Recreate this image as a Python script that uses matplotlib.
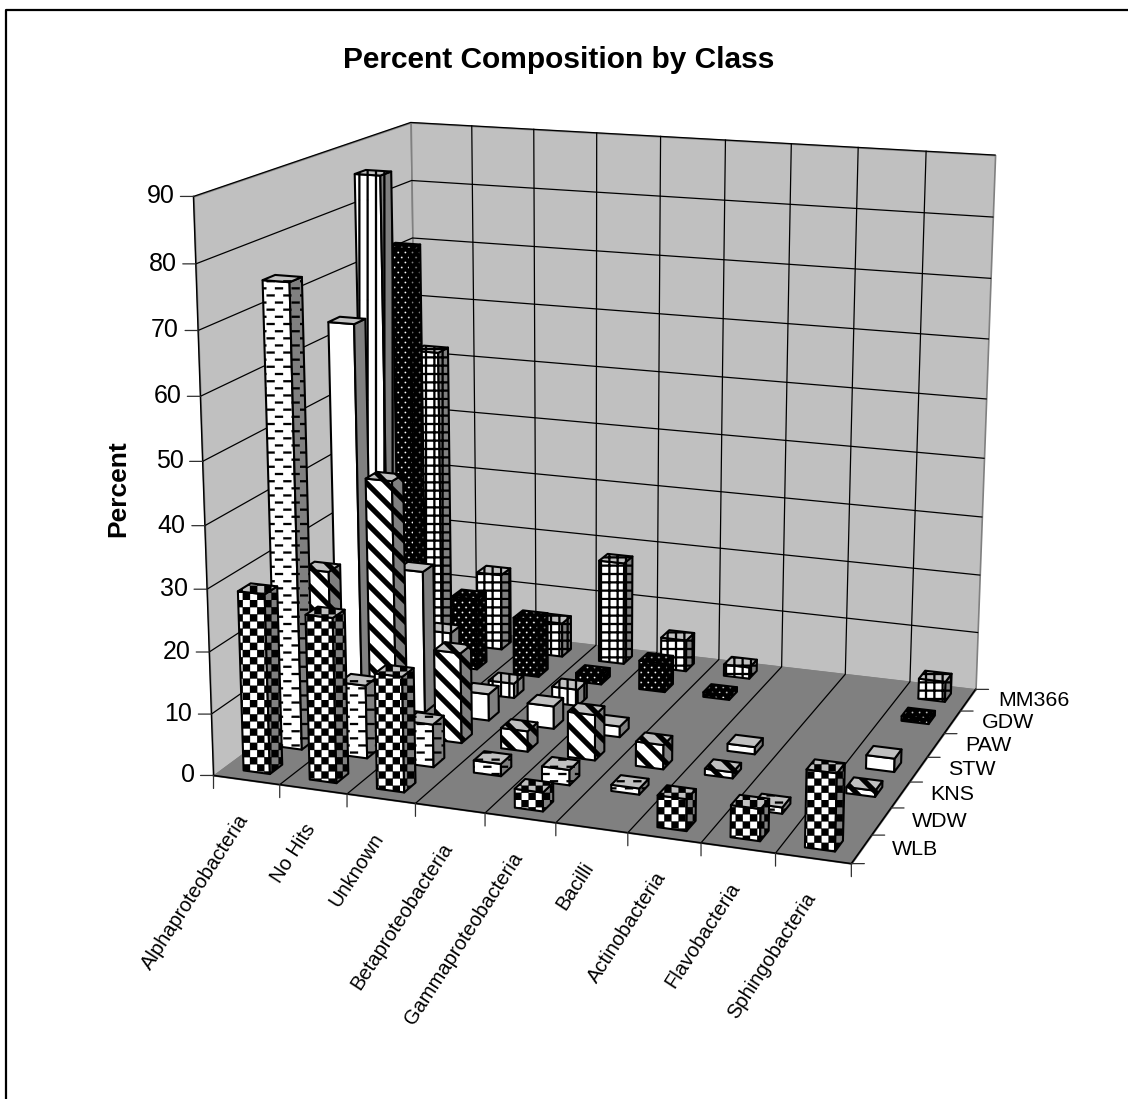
import numpy as np
import matplotlib
matplotlib.use('Agg')
import matplotlib.pyplot as plt
from matplotlib import hatch as mpl_hatch
from matplotlib.lines import Line2D
from matplotlib.path import Path
from mpl_toolkits.mplot3d import proj3d
from mpl_toolkits.mplot3d.art3d import Poly3DCollection

plt.rcParams['font.family'] = ['Liberation Sans', 'DejaVu Sans']
plt.rcParams['hatch.linewidth'] = 0.2

classes = ['Alphaproteobacteria', 'No Hits', 'Unknown', 'Betaproteobacteria',
           'Gammaproteobacteria', 'Bacilli', 'Actinobacteria', 'Flavobacteria',
           'Sphingobacteria']
samples = ['WLB', 'WDW', 'KNS', 'STW', 'PAW', 'GDW', 'MM366']

wlb = [29, 26.5, 18.5, 0, 3, 0, 5, 5, 12]
wdw = [75, 12, 7, 2, 2.5, 1, 0, 1, 0]
kns = [26, 42, 15, 3.4, 7.5, 4, 1, 0, 1]
stw = [64, 24, 4.5, 3.8, 1.8, 0, 1.2, 0, 2.2]
paw = [86, 10, 2.5, 2.8, 0, 0, 0, 0, 0]
gdw = [72, 12.5, 10, 1.5, 5, 0.8, 0, 0, 0.8]
mm366 = [52, 13.5, 6, 18, 5.5, 2, 0, 0, 3.5]
series = [wlb, wdw, kns, stw, paw, gdw, mm366]
z_ticks = list(range(0, 100, 10))

W, H = 1128, 1099


# patterns of the bars, as filled shapes on the hatch tile (100 px square)
def rect(x, y, w, h):
    return [(x, y), (x + w, y), (x + w, y + h), (x, y + h)]


def checker_polys(n=14):
    return [rect(i / n, j / n, 1 / n, 1 / n) for i in range(n) for j in range(n) if (i + j) % 2 == 0]


def dash_polys(rows=14, per=6):
    return [rect((c + (r % 2) / 2) / per, (r + 0.5) / rows, 0.08, 0.02)
            for r in range(rows) for c in range(per)]


def diag_polys(n=5, t=0.07):
    return [[(0, k / n), (0, k / n + t), (1, k / n - 1 + t), (1, k / n - 1)] for k in range(0, 2 * n + 1)]


def vert_polys(n=12):
    return [rect(i / n, 0, 0.02, 1) for i in range(n)]


def grid_polys(n=12):
    return [rect(i / n, 0, 0.02, 1) for i in range(n)] + [rect(0, j / n, 1, 0.02) for j in range(n)]


def dot_polys(per=14, rows=20, s=0.013):
    polys = [rect(0, 0, 1, 1)]
    for r in range(rows):
        for c in range(per):
            x = (c + 0.25 + (r % 2) / 2) / per
            y = (r + 0.5) / rows
            # holes wind the other way round
            polys.append([(x, y - s), (x - s, y), (x, y + s), (x + s, y)])
    return polys


def tile_hatch(char, polys):
    class TileHatch(mpl_hatch.HatchPatternBase):
        def __init__(self, hatch, density):
            self.num_vertices = sum(len(p) + 1 for p in polys) if char in hatch else 0

        def set_vertices_and_codes(self, vertices, codes):
            k = 0
            for p in polys:
                n = len(p)
                vertices[k:k + n] = p
                vertices[k + n] = p[0]
                codes[k] = Path.MOVETO
                codes[k + 1:k + n] = Path.LINETO
                codes[k + n] = Path.CLOSEPOLY
                k += n + 1
    return TileHatch


mpl_hatch._hatch_types[:] = [tile_hatch('x', checker_polys()), tile_hatch('-', dash_polys()),
                             tile_hatch('/', diag_polys()), tile_hatch('|', vert_polys()),
                             tile_hatch('+', grid_polys()), tile_hatch('o', dot_polys())]
patterns = ['x', '-', '/', None, '|', 'o', '+']

fig = plt.figure(figsize=(W / 100, H / 100), dpi=100, facecolor='white')
size = 973.6
cx, cy = 598.07, 626.08
ax = fig.add_axes([(cx - size / 2) / W, (cy - size / 2) / H, size / W, size / H],
                  projection='3d', computed_zorder=False)
ax.set_xlim(0, 9)
ax.set_ylim(0, 7)
ax.set_zlim(0, 90)
ax.view_init(elev=14.899, azim=-70.36, roll=-0.149)
ax.set_proj_type('persp', focal_length=0.5542)
ax.set_box_aspect((1, 0.7833, 0.8883))


def to_view(x, y, z):
    return proj3d.proj_transform(x, y, z, ax.get_proj())[:2]


face_colors = ['white', '#808080', '#c0c0c0']
bar_w, bar_d = 0.40, 0.38

# walls and floor
wall = dict(facecolors='#c0c0c0', edgecolors='#808080', linewidths=1.2)
ax.add_collection3d(Poly3DCollection([[(0, 0, 0), (0, 7, 0), (0, 7, 90), (0, 0, 90)]], zorder=1, **wall), autolim=False)
ax.add_collection3d(Poly3DCollection([[(0, 7, 0), (9, 7, 0), (9, 7, 90), (0, 7, 90)]], zorder=1, **wall), autolim=False)
ax.add_collection3d(Poly3DCollection([[(0, 0, 0), (9, 0, 0), (9, 7, 0), (0, 7, 0)]], zorder=2, facecolors='#808080',
                                     edgecolors='#808080', linewidths=1), autolim=False)

grid = dict(color='black', lw=0.9, zorder=3)
for z in z_ticks[1:]:
    ax.plot([0, 0, 9], [0, 7, 7], [z, z, z], **grid)
for i in range(1, 9):
    ax.plot([i, i, i], [0, 7, 7], [0, 0, 90], **grid)
ax.plot([0, 0], [0, 0], [0, 90], color='black', lw=1, zorder=3)
ax.plot([0, 9, 9], [0, 0, 7], [0, 0, 0], color='black', lw=1.2, zorder=3)


def tick(x, y, z, dx, dy):
    ax.annotate('', xy=to_view(x, y, z), xytext=(dx, dy), textcoords='offset pixels',
                arrowprops=dict(arrowstyle='-', color='#303030', lw=0.9, shrinkA=0, shrinkB=0), annotation_clip=False)


for z in z_ticks:
    tick(0, 0, z, -13, 0)
    ax.annotate(str(z), xy=to_view(0, 0, z), xytext=(-19, 0), textcoords='offset pixels', ha='right',
                va='center', fontsize=18, annotation_clip=False)
for i in range(10):
    tick(i, 0, 0, 0, -13)
for i, name in enumerate(classes):
    ax.annotate(name, xy=to_view(i + 0.5, 0, 0), xytext=(-2, -36), textcoords='offset pixels', ha='right',
                va='center', rotation=57, rotation_mode='anchor', fontsize=14.5, annotation_clip=False)
for j in range(8):
    tick(9, j, 0, 13, 0)
for j, name in enumerate(samples):
    ax.annotate(name, xy=to_view(9, j + 0.5, 0), xytext=(30, 0), textcoords='offset pixels', ha='left',
                va='center', fontsize=15.4, annotation_clip=False)

# bars, far row first so the near ones paint over them
order = 10
for j in range(len(samples) - 1, -1, -1):
    for i in range(len(classes)):
        v = series[j][i]
        if v <= 0:
            continue
        x0, x1 = i + 0.5 - bar_w / 2, i + 0.5 + bar_w / 2
        y0, y1 = j + 0.5 - bar_d / 2, j + 0.5 + bar_d / 2
        faces = [[(x0, y0, 0), (x1, y0, 0), (x1, y0, v), (x0, y0, v)],
                 [(x1, y0, 0), (x1, y1, 0), (x1, y1, v), (x1, y0, v)],
                 [(x0, y0, v), (x1, y0, v), (x1, y1, v), (x0, y1, v)]]
        for face, fc in zip(faces, face_colors):
            ax.add_collection3d(Poly3DCollection([face], facecolors=fc, edgecolors='black', linewidths=1.5,
                                                 hatch=patterns[j], zorder=order), autolim=False)
            order += 1

ax.set_axis_off()

fig.text(559 / W, 1 - 68 / H, 'Percent Composition by Class', ha='center', va='baseline', fontsize=21.5, fontweight='bold')
fig.text(118 / W, 1 - 489 / H, 'Percent', ha='center', va='center', rotation=90, fontsize=19, fontweight='bold')
# only the top and left edges of the frame fall inside the picture
fig.add_artist(Line2D([6 / W, 6 / W, 1], [0, 1 - 9.5 / H, 1 - 9.5 / H], transform=fig.transFigure, color='black', lw=1.6))

fig.savefig('out.png', dpi=100)
